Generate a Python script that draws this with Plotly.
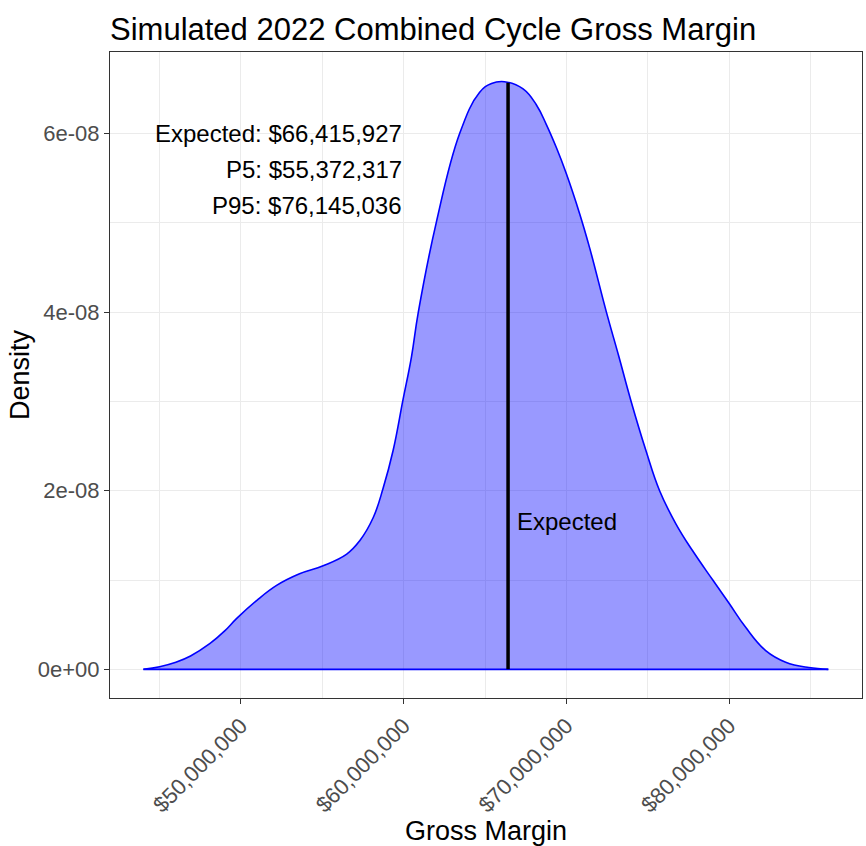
import plotly.graph_objects as go

# simulated gross margin (in $ millions) and kernel density (in units of 1e-8)
gm_millions = [44.0, 45.0, 46.0, 46.9, 48.1, 49.0, 49.74, 50.96, 52.19, 53.6, 55.05, 56.5,
               57.3, 58.13, 58.74, 59.35, 59.96, 60.48, 60.9, 62.0, 63.44, 64.66, 65.4,
               66.2, 67.34, 68.16, 68.77, 69.39, 70.0, 70.82, 71.43, 72.46, 73.2, 73.98,
               74.89, 75.73, 76.73, 77.75, 79.0, 80.0, 81.02, 82.25, 83.48, 84.9, 86.1]
density_e8 = [0.0, 0.03, 0.08, 0.15, 0.29, 0.43, 0.57, 0.77, 0.94, 1.07, 1.16, 1.29,
              1.44, 1.70, 2.03, 2.45, 3.02, 3.50, 4.0, 5.0, 6.0, 6.46, 6.56,
              6.58, 6.50, 6.32, 6.10, 5.84, 5.55, 5.10, 4.72, 4.00, 3.52, 3.00,
              2.45, 2.00, 1.63, 1.33, 1.00, 0.74, 0.47, 0.21, 0.08, 0.02, 0.0]

expected = 66415927
p5 = 55372317
p95 = 76145036
expected_density_e8 = 6.57

x_ticks = [50e6, 60e6, 70e6, 80e6]
x_tick_text = ['$50,000,000', '$60,000,000', '$70,000,000', '$80,000,000']
y_ticks = [0, 2e-8, 4e-8, 6e-8]
y_tick_text = ['0e+00', '2e-08', '4e-08', '6e-08']

x = [v * 1e6 for v in gm_millions]
y = [v * 1e-8 for v in density_e8]

font = 'Liberation Sans, Arial, Helvetica, sans-serif'

fig = go.Figure()
fig.add_trace(go.Scatter(x=x, y=y, mode='lines',
                         line=dict(color='blue', width=1.6, shape='spline', smoothing=1.2),
                         fill='tozeroy', fillcolor='rgba(0,0,255,0.4)', hoverinfo='skip'))
# baseline of the density polygon
fig.add_trace(go.Scatter(x=[x[0], x[-1]], y=[0, 0], mode='lines',
                         line=dict(color='blue', width=1.6), hoverinfo='skip'))
fig.add_trace(go.Scatter(x=[expected, expected], y=[0, expected_density_e8 * 1e-8], mode='lines',
                         line=dict(color='black', width=3.5), hoverinfo='skip'))

labels = [f'Expected: ${expected:,}', f'P5: ${p5:,}', f'P95: ${p95:,}']
for i, txt in enumerate(labels):
    fig.add_annotation(x=60e6, y=(6.0 - 0.405 * i) * 1e-8, text=txt, showarrow=False,
                       xanchor='right', yanchor='middle', font=dict(size=24, color='black'))
fig.add_annotation(x=66.86e6, y=1.65e-8, text='Expected', showarrow=False,
                   xanchor='left', yanchor='middle', font=dict(size=24, color='black'))

axis_common = dict(showline=True, mirror=True, linecolor='#333333', linewidth=1.2,
                   ticks='outside', ticklen=5, tickcolor='#333333', tickwidth=1.2,
                   gridcolor='#EBEBEB', gridwidth=1.4, zeroline=False, automargin=False,
                   tickfont=dict(size=22, color='#4D4D4D'))

fig.update_xaxes(range=[41.95e6, 88.17e6], tickmode='array', tickvals=x_ticks,
                 ticktext=x_tick_text, tickangle=-45,
                 minor=dict(tickmode='array', tickvals=[45e6, 55e6, 65e6, 75e6, 85e6],
                            showgrid=True, gridcolor='#EBEBEB', gridwidth=0.8, ticks=''),
                 title=dict(text='Gross Margin', font=dict(size=27, color='black'), standoff=6),
                 **axis_common)
fig.update_yaxes(range=[-0.321e-8, 6.913e-8], tickmode='array', tickvals=y_ticks,
                 ticktext=y_tick_text,
                 minor=dict(tickmode='array', tickvals=[1e-8, 3e-8, 5e-8],
                            showgrid=True, gridcolor='#EBEBEB', gridwidth=0.8, ticks=''),
                 title=dict(text='Density', font=dict(size=27, color='black'), standoff=0),
                 **axis_common)

fig.update_layout(
    width=866, height=846,
    margin=dict(l=110, r=4, t=52, b=148),
    paper_bgcolor='white', plot_bgcolor='white',
    font=dict(family=font),
    showlegend=False,
    title=dict(text='Simulated 2022 Combined Cycle Gross Margin', font=dict(size=31, color='black'),
               x=0, xref='paper', xanchor='left', y=1 - 29 / 846, yref='container', yanchor='middle'),
)

# drop the browser's default page margin so the figure sits at the top-left corner
fig.write_html('out.html', config={'displayModeBar': False},
               post_script="document.body.style.margin='0';document.body.style.overflow='hidden';")
